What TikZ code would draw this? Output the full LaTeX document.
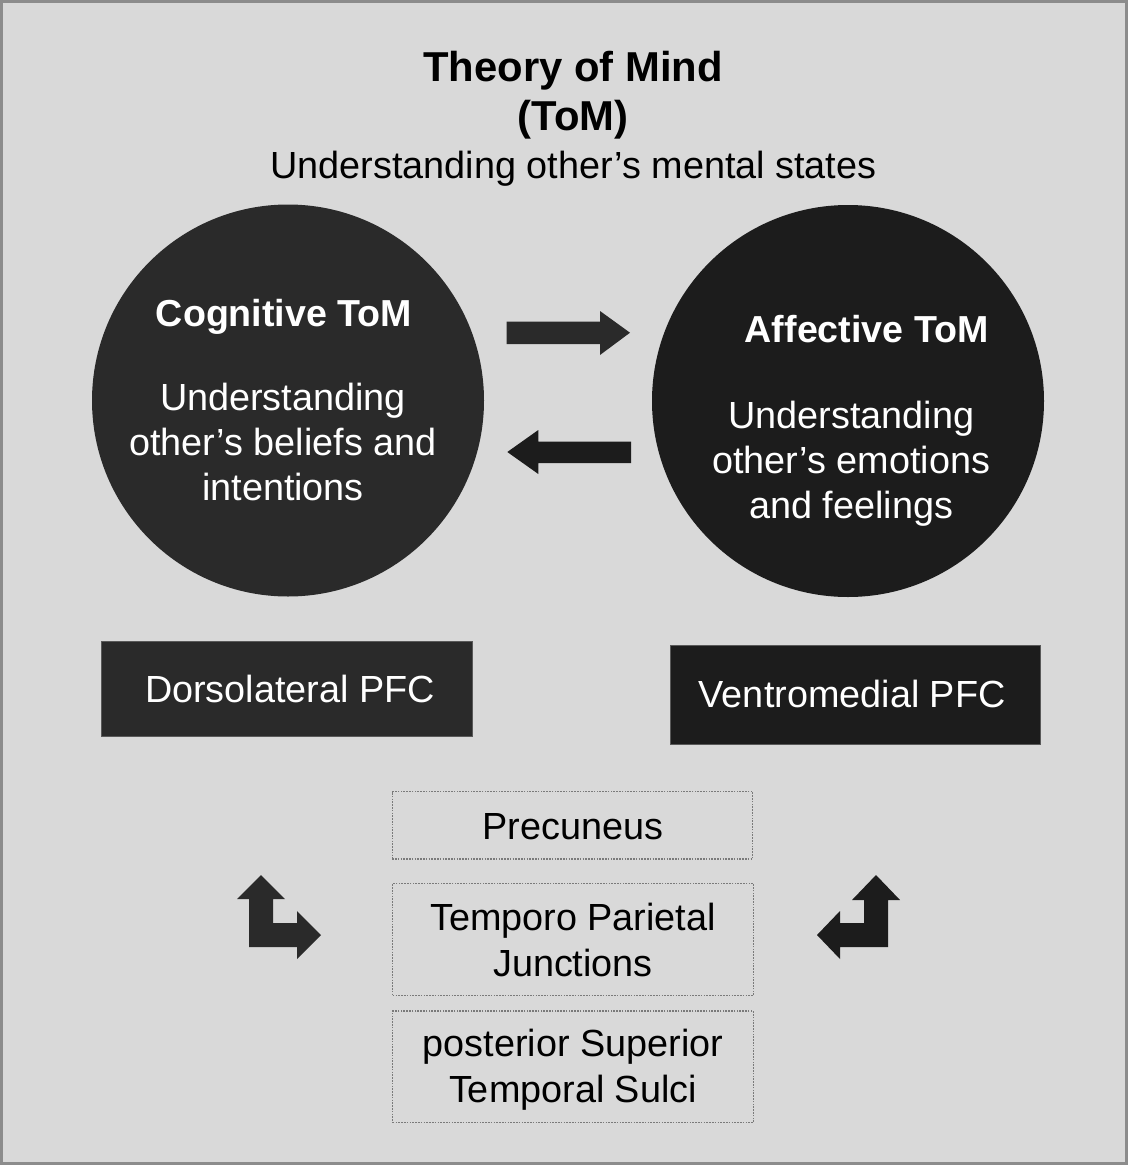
\documentclass[tikz,border=0pt]{standalone}
\usepackage{fontspec}
\setmainfont{Liberation Sans}
\definecolor{bg}{HTML}{D9D9D9}
\definecolor{framec}{HTML}{8C8C8C}
\definecolor{darkA}{HTML}{2A2A2A}
\definecolor{darkB}{HTML}{1C1C1C}
\definecolor{dotc}{HTML}{7A7A7A}
\begin{document}
\begin{tikzpicture}[x=1pt,y=-1pt,
  txt/.style={font=\fontsize{37.8}{45}\selectfont, anchor=base, inner sep=0pt},
  ttl/.style={font=\fontsize{41.8}{50}\selectfont\bfseries, anchor=base, inner sep=0pt},
  hd/.style={txt, font=\fontsize{37.6}{45}\selectfont\bfseries},
  disc/.style={circle, minimum size=392, inner sep=0pt},
  pfcbox/.style={rectangle, draw=gray!70!black, line width=0.8, inner sep=0pt},
  dotbox/.style={rectangle, draw=dotc, line width=1.2, dash pattern=on 1.6 off 1.2, inner sep=0pt, minimum width=360.5},
  shapeA/.style={fill=darkA},
  shapeB/.style={fill=darkB}]
\fill[bg] (0,0) rectangle (1128,1165);
\draw[framec, line width=2.5] (1.5,1.5) rectangle (1126.5,1163.5);
\useasboundingbox (0,0) rectangle (1128,1165);

% title
\node[ttl] (t1) at (573,81.7) {Theory of Mind};
\node[ttl] (t2) at (573,130.7) {(ToM)};
\node[txt] (t3) at (573.5,178) {Understanding other’s mental states};

% circles
\node[disc, fill=darkA] (cog) at (288,400.5) {};
\node[disc, fill=darkB] (aff) at (848,401) {};
\node[hd, white] (cogT) at (284,326) {Cognitive ToM};
\node[txt, white] (cog1) at (283,410) {Understanding};
\node[txt, white] (cog2) at (283,455.7) {other’s beliefs and};
\node[txt, white] (cog3) at (283,500) {intentions};
\node[hd, white] (affT) at (866.7,342.3) {Affective ToM};
\node[txt, white] (aff1) at (851.3,428.3) {Understanding};
\node[txt, white] (aff2) at (851.3,473.3) {other’s emotions};
\node[txt, white] (aff3) at (851.3,518.3) {and feelings};

% block arrows between circles
\fill[shapeA] (506.7,321.7) -- (600,321.7) -- (600,311) -- (630,332.7) -- (600,355) -- (600,344) -- (506.7,344) -- cycle;
\fill[shapeB] (631,441.5) -- (538.3,441.5) -- (538.3,430) -- (507.3,452) -- (538.3,474) -- (538.3,463) -- (631,463) -- cycle;

% PFC boxes
\node[pfcbox, fill=darkA, minimum width=370.3, minimum height=95.7] (dl) at (286.9,688.9) {};
\node[txt, white] (dlT) at (290,702.7) {Dorsolateral PFC};
\node[pfcbox, fill=darkB, minimum width=370.7, minimum height=99.3] (vm) at (855.3,694.7) {};
\node[txt, white] (vmT) at (852.2,707.7) {Ventromedial PFC};

% dotted boxes
\node[dotbox, minimum height=67.3] (pc) at (572.5,825.4) {};
\node[txt] (pcT) at (573,839) {Precuneus};
\node[dotbox, minimum height=112.4] (tpj) at (573,939.5) {};
\node[txt] (tpj1) at (573,930.7) {Temporo Parietal};
\node[txt] (tpj2) at (573,976) {Junctions};
\node[dotbox, minimum height=111.7] (sts) at (573,1066.9) {};
\node[txt] (sts1) at (573,1056.7) {posterior Superior};
\node[txt] (sts2) at (573,1102.7) {Temporal Sulci};

% bent arrows
\fill[shapeA] (261,875) -- (285,899) -- (273,899) -- (273,923) -- (297,923) -- (297,911) -- (321,935) -- (297,959) -- (297,947) -- (249,947) -- (249,899) -- (237,899) -- cycle;
\fill[shapeB] (876,875) -- (900,900) -- (888,900) -- (888,947) -- (840,947) -- (840,959) -- (817,935) -- (840,911) -- (840,923) -- (864,923) -- (864,900) -- (852,900) -- cycle;
\end{tikzpicture}
\end{document}
